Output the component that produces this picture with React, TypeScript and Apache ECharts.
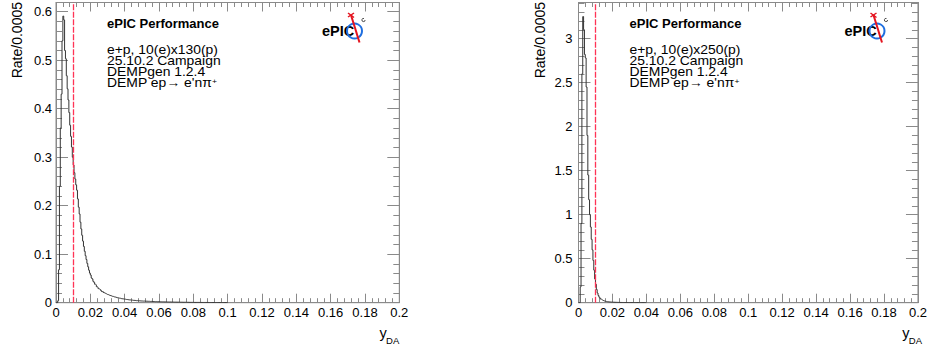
import React, { useEffect, useRef } from "react";
import * as echarts from "echarts";

// Histogram bin width in y_DA
const BIN_WIDTH = 0.0005;
const X_MIN = 0;
const X_MAX = 0.2;
const X_INTERVAL = 0.02;
const Y_CUT = 0.01;

// 10(e)x130(p): rate per 0.0005 bin, starting at y_DA = 0
const ratesLow = [
  0, 0, 0.004, 0.068, 0.24, 0.36, 0.43, 0.54, 0.591, 0.583,
  0.52, 0.503, 0.468, 0.441, 0.418, 0.392, 0.366, 0.343, 0.321, 0.3,
  0.284, 0.268, 0.255, 0.243, 0.232, 0.214, 0.197, 0.183, 0.166, 0.152,
  0.139, 0.127, 0.116, 0.106, 0.097, 0.089, 0.081, 0.074, 0.067, 0.061,
  0.057, 0.051, 0.049, 0.044, 0.042, 0.038, 0.037, 0.033, 0.032, 0.029,
  0.028, 0.027, 0.025, 0.023, 0.023, 0.021, 0.02, 0.0192, 0.0183, 0.0171,
  0.0168, 0.0157, 0.0154, 0.0143, 0.0141, 0.0131, 0.0129, 0.0121, 0.0119, 0.011,
  0.0109, 0.0101, 0.01, 0.0094, 0.0092, 0.0085, 0.0084, 0.0079, 0.0078, 0.0073,
  0.0072, 0.0067, 0.0066, 0.0062, 0.0061, 0.0057, 0.0057, 0.0053, 0.0053, 0.0049,
  0.0049, 0.0046, 0.0046, 0.0042, 0.0043, 0.004, 0.004, 0.0037, 0.0038, 0.0035,
  0.0035, 0.0033, 0.0034, 0.0031, 0.0032, 0.0029, 0.003, 0.0028, 0.0028, 0.0026,
  0.0027, 0.0025, 0.0025, 0.0024, 0.0024, 0.0022, 0.0023, 0.0021, 0.0021, 0.002,
  0.002, 0.0019, 0.0019, 0.0018, 0.0018, 0.0017, 0.0017, 0.0016, 0.0016, 0.0015,
  0.0015, 0.0014, 0.0015, 0.0014, 0.0013, 0.0013, 0.0013, 0.0012, 0.0012, 0.0012,
  0.0011, 0.0011, 0.0011, 0.001, 0.001, 0.001, 0.001, 0.0009, 0.0009, 0.0009,
  0.0009, 0.0008, 0.0008, 0.0008, 0.0008, 0.0007, 0.0007, 0.0007, 0.0007, 0.0007,
  0.0006, 0.0006, 0.0006, 0.0006, 0.0006, 0.0006, 0.0006, 0.0005, 0.0006, 0.0005,
  0.0005, 0.0005, 0.0005, 0.0005, 0.0005, 0.0005, 0.0004, 0.0005, 0.0004, 0.0004,
  0.0004, 0.0004, 0.0004, 0.0004, 0.0004, 0.0003, 0.0004, 0.0003, 0.0003, 0.0003,
  0.0003, 0.0003, 0.0003, 0.0003, 0.0003, 0.0003, 0.0002, 0.0003, 0.0002, 0.0002,
];

// 10(e)x250(p): rate per 0.0005 bin, starting at y_DA = 0
const ratesHigh = [
  0, 0, 0.18, 0.9, 2.6, 3.25, 3.1, 2.82, 2.78, 2.45,
  1.9, 1.45, 1.17, 1.0, 0.86, 0.72, 0.6, 0.48, 0.37, 0.27,
  0.21, 0.15, 0.11, 0.082, 0.063, 0.05, 0.04, 0.033, 0.027, 0.022,
  0.019, 0.016, 0.014, 0.012, 0.011, 0.0095, 0.0085, 0.0078, 0.007, 0.0064,
  0.0058, 0.0053, 0.0049, 0.0045, 0.0041, 0.0038, 0.0035, 0.0032, 0.003, 0.0028,
  0.0026, 0.0024, 0.0023, 0.0021, 0.002, 0.0019, 0.0018, 0.0017, 0.0016, 0.0015,
  0.0014, 0.0013, 0.0013, 0.0012, 0.0011, 0.0011, 0.001, 0.001, 0.0009, 0.0009,
  0.0008, 0.0008, 0.0007, 0.0007, 0.0007, 0.0006, 0.0006, 0.0006, 0.0005, 0.0005,
];

const infoLow = ["e+p, 10(e)x130(p)", "25.10.2 Campaign", "DEMPgen 1.2.4"];
const infoHigh = ["e+p, 10(e)x250(p)", "25.10.2 Campaign", "DEMPgen 1.2.4"];
const TITLE = "ePIC Performance";
const PROCESS = "DEMP ep\u2192 e'n\u03c0";
const Y_TITLE = "Rate/0.0005";

const FONT = "'Liberation Sans', Arial, Helvetica, sans-serif";
const FRAME = "#8a8a8a";
const HIST = "#333333";
const CUT_COLOR = "#ff3355";

const PLOT_TOP = 2.5;
const PLOT_HEIGHT = 300.2;
const LABEL_SIZE = 13;
const INFO_SIZE = 12.2;
const INFO_STRETCH = 1.14;
const INFO_LINES_Y = [49.5, 60.5, 71.5, 82.5];

type Panel = {
  left: number;
  width: number;
  yMax: number;
  yInterval: number;
  rates: number[];
  info: string[];
  yLabelMargin: number;
};

const panels: Panel[] = [
  { left: 56, width: 343.3, yMax: 0.619, yInterval: 0.1, rates: ratesLow, info: infoLow, yLabelMargin: 4 },
  { left: 578.5, width: 343.5, yMax: 3.41, yInterval: 0.5, rates: ratesHigh, info: infoHigh, yLabelMargin: 6 },
];

function stepData(rates: number[]) {
  const pts: number[][] = rates.map((v, i) => [i * BIN_WIDTH, v]);
  pts.push([rates.length * BIN_WIDTH, 0]);
  return pts;
}

function textEl(text: string, x: number, y: number, size: number, extra: any = {}, el: any = {}) {
  return {
    type: "text",
    x,
    y,
    silent: true,
    ...el,
    style: {
      text,
      fontSize: size,
      fontFamily: FONT,
      fill: "#000",
      align: "left",
      textAlign: "left",
      verticalAlign: "middle",
      textVerticalAlign: "middle",
      ...extra,
    },
  };
}

function logo(ox: number) {
  return [
    textEl("ePIC", ox + 322, 30.5, 14.5, { fontWeight: "bold" }),
    {
      type: "circle",
      silent: true,
      shape: { cx: ox + 354.5, cy: 31, r: 7.5 },
      style: { fill: "none", stroke: "#1f6fe0", lineWidth: 2 },
    },
    {
      type: "line",
      silent: true,
      shape: { x1: ox + 351, y1: 15, x2: ox + 359.5, y2: 42.5 },
      style: { stroke: "#e4141f", lineWidth: 2 },
    },
    {
      type: "line",
      silent: true,
      shape: { x1: ox + 348, y1: 13, x2: ox + 354, y2: 17.5 },
      style: { stroke: "#e4141f", lineWidth: 1.5 },
    },
    {
      type: "line",
      silent: true,
      shape: { x1: ox + 348, y1: 17, x2: ox + 354, y2: 13 },
      style: { stroke: "#e4141f", lineWidth: 1.5 },
    },
    {
      type: "arc",
      silent: true,
      shape: { cx: ox + 363.5, cy: 20, r: 1.6, startAngle: 0, endAngle: Math.PI * 1.6 },
      style: { fill: "none", stroke: "#222", lineWidth: 0.8 },
    },
  ];
}

function panelGraphics(p: Panel) {
  const ox = p.left - panels[0].left;
  const right = p.left + p.width;
  const stretch = { scaleX: INFO_STRETCH };
  const infoStyle = { lineHeight: 10.5 };
  const els: any[] = [
    textEl(TITLE, ox + 107, 23.5, 13, { fontWeight: "bold" }),
    ...p.info.map((t, k) => textEl(t, ox + 107, INFO_LINES_Y[k], INFO_SIZE, infoStyle, stretch)),
    {
      type: "text",
      x: ox + 107,
      y: INFO_LINES_Y[3],
      scaleX: INFO_STRETCH,
      silent: true,
      style: {
        text: "{m|" + PROCESS + "}{s|+}",
        fontFamily: FONT,
        fill: "#000",
        align: "left",
        textAlign: "left",
        verticalAlign: "middle",
        textVerticalAlign: "middle",
        rich: {
          m: { fontSize: INFO_SIZE, fontFamily: FONT, fill: "#000", lineHeight: 10.5 },
          s: { fontSize: 7.5, fontFamily: FONT, fill: "#000", lineHeight: 10.5, verticalAlign: "top" },
        },
      },
    },
    // y axis title
    {
      type: "text",
      x: p.left - 39,
      y: 2,
      rotation: Math.PI / 2,
      silent: true,
      style: {
        text: Y_TITLE,
        fontSize: 14,
        fontFamily: FONT,
        fill: "#000",
        align: "right",
        textAlign: "right",
        verticalAlign: "middle",
        textVerticalAlign: "middle",
      },
    },
    // x axis title
    textEl("DA", right, 340.5, 9.5, { align: "right", textAlign: "right" }),
    textEl("y", right - 12.5, 333, 14.5, { align: "right", textAlign: "right" }),
    ...logo(ox),
  ];
  return els;
}

const tickStyle = { color: FRAME, width: 1 };

function buildOption() {
  const grid: any[] = [];
  const xAxis: any[] = [];
  const yAxis: any[] = [];
  const series: any[] = [];
  const graphic: any[] = [];

  panels.forEach((p, i) => {
    grid.push({
      left: p.left,
      top: PLOT_TOP,
      width: p.width,
      height: PLOT_HEIGHT,
      show: true,
      borderColor: FRAME,
      borderWidth: 1,
      backgroundColor: "transparent",
    });
    const xCommon = {
      gridIndex: i,
      type: "value",
      min: X_MIN,
      max: X_MAX,
      interval: X_INTERVAL,
      axisLine: { show: true, onZero: false, lineStyle: tickStyle },
      axisTick: { show: true, inside: true, length: 9, lineStyle: tickStyle },
      minorTick: { show: true, splitNumber: 5, length: 4.5, lineStyle: tickStyle },
      splitLine: { show: false },
      minorSplitLine: { show: false },
    };
    xAxis.push({
      ...xCommon,
      position: "bottom",
      axisLabel: {
        show: true,
        color: "#000",
        fontSize: LABEL_SIZE,
        fontFamily: FONT,
        margin: 3.5,
        showMinLabel: true,
        showMaxLabel: true,
      },
    });
    xAxis.push({ ...xCommon, position: "top", axisLabel: { show: false } });

    const yCommon = {
      gridIndex: i,
      type: "value",
      min: 0,
      max: p.yMax,
      interval: p.yInterval,
      axisLine: { show: true, onZero: false, lineStyle: tickStyle },
      axisTick: { show: true, inside: true, length: 12, lineStyle: tickStyle },
      minorTick: { show: true, splitNumber: 5, length: 6, lineStyle: tickStyle },
      splitLine: { show: false },
      minorSplitLine: { show: false },
    };
    yAxis.push({
      ...yCommon,
      position: "left",
      axisLabel: {
        show: true,
        color: "#000",
        fontSize: LABEL_SIZE,
        fontFamily: FONT,
        margin: p.yLabelMargin,
        showMaxLabel: false,
      },
    });
    yAxis.push({ ...yCommon, position: "right", axisLabel: { show: false } });

    series.push({
      type: "line",
      xAxisIndex: i * 2,
      yAxisIndex: i * 2,
      step: "end",
      data: stepData(p.rates),
      showSymbol: false,
      symbol: "none",
      silent: true,
      lineStyle: { color: HIST, width: 1 },
      markLine: {
        silent: true,
        symbol: ["none", "none"],
        label: { show: false },
        lineStyle: { color: CUT_COLOR, type: [6, 1.5], width: 1.3 },
        data: [{ xAxis: Y_CUT }],
      },
    });

    graphic.push(...panelGraphics(p));
  });

  return {
    animation: false,
    backgroundColor: "#ffffff",
    grid,
    xAxis,
    yAxis,
    series,
    graphic,
  };
}

export default function App() {
  const ref = useRef<HTMLDivElement | null>(null);
  useEffect(() => {
    if (!ref.current) return;
    const chart = echarts.init(ref.current, undefined, { renderer: "svg" });
    chart.setOption(buildOption() as any);
    return () => chart.dispose();
  }, []);
  return (
    <div
      ref={ref}
      style={{ position: "fixed", left: 0, top: 0, width: 930, height: 349, background: "#fff" }}
    />
  );
}
